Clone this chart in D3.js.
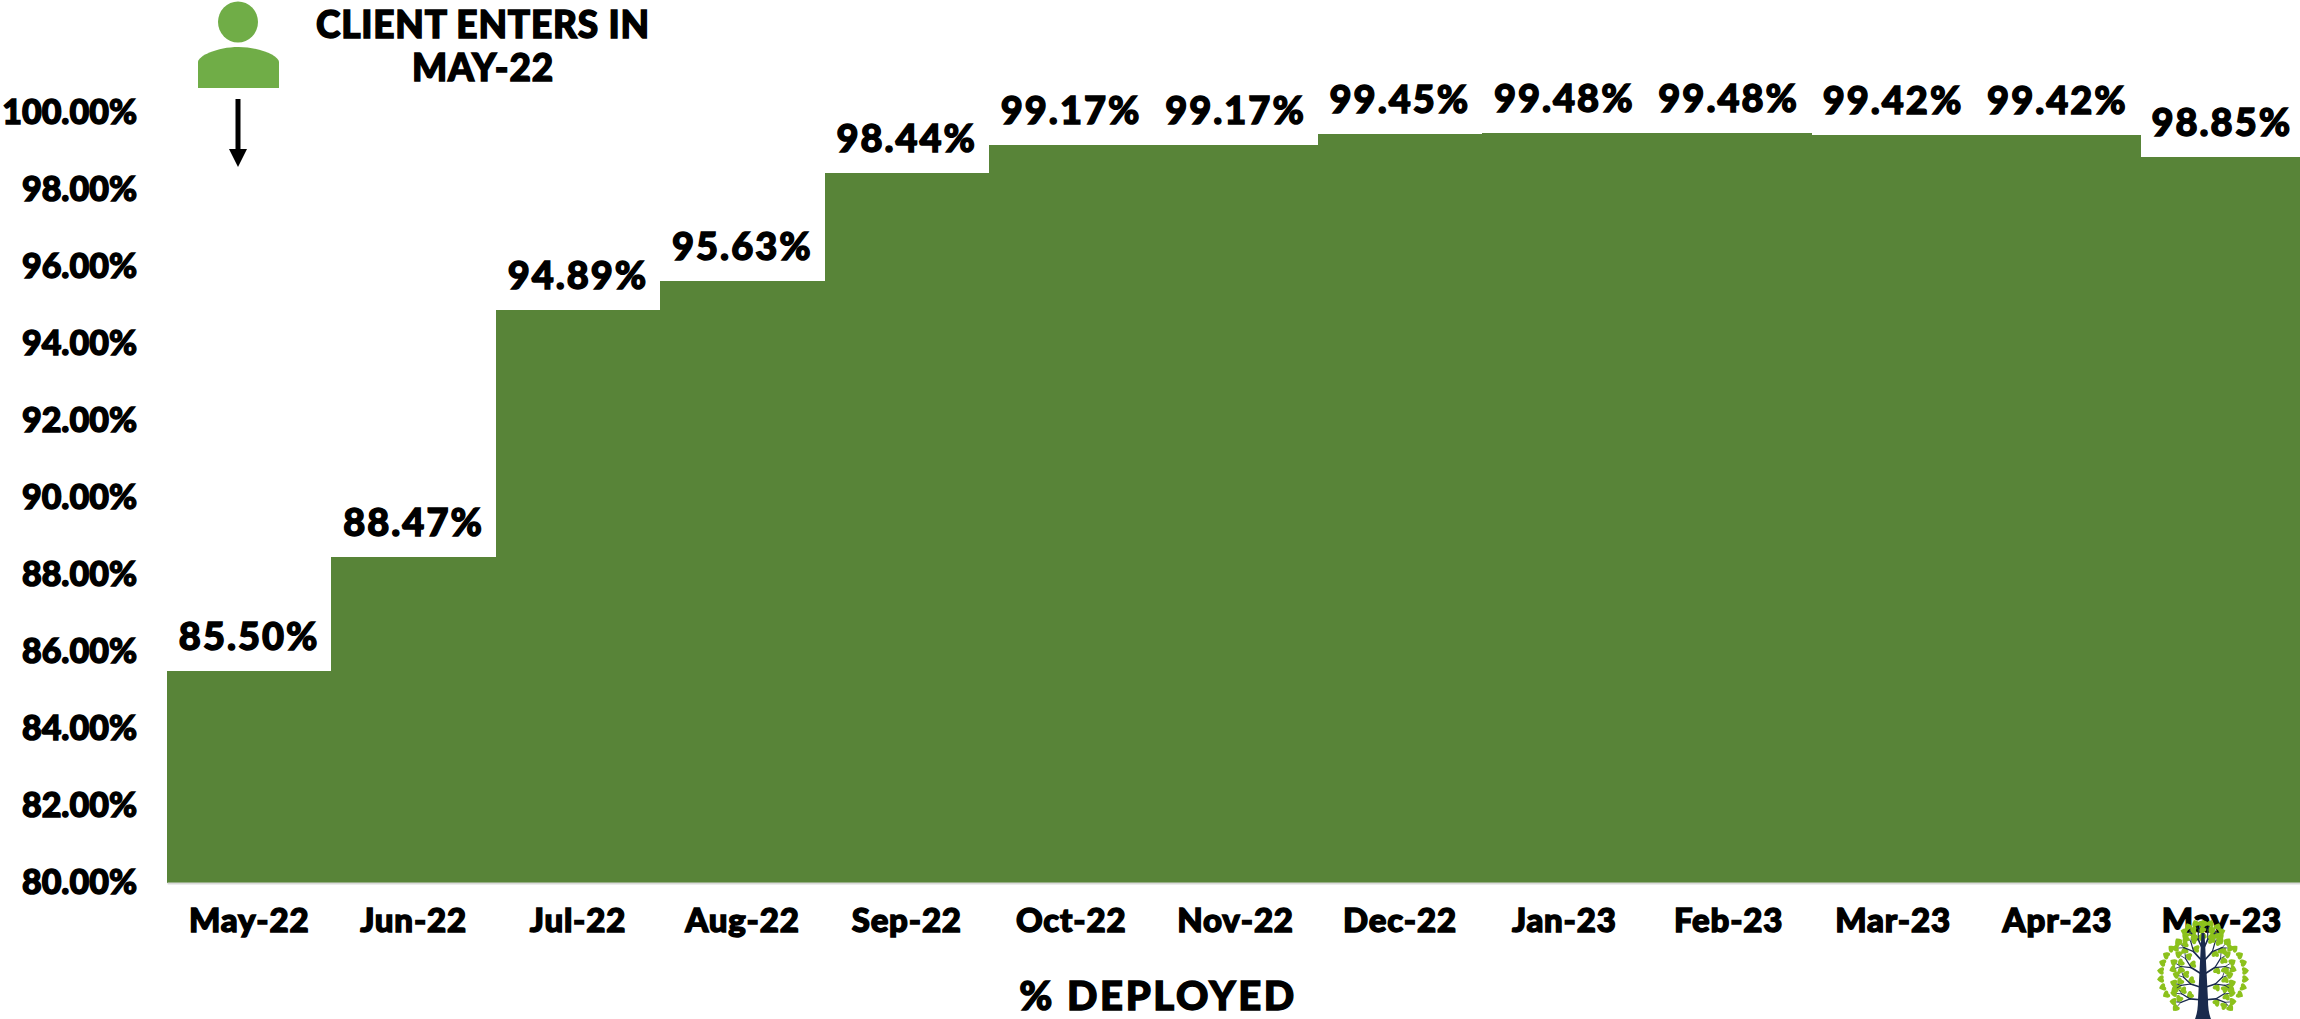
<!DOCTYPE html>
<html>
<head>
<meta charset="utf-8">
<script src="https://cdn.jsdelivr.net/npm/d3@7"></script>
<style>
  html, body { margin: 0; padding: 0; background: #fff; overflow: hidden; }
  svg { display: block; }
  text { font-family: Lato, "Open Sans", sans-serif; font-weight: 900; fill: #000; stroke: #000; stroke-width: 1.4px; }
</style>
</head>
<body>
<svg width="2300" height="1019"></svg>
<script>
var months = ['May-22', 'Jun-22', 'Jul-22', 'Aug-22', 'Sep-22', 'Oct-22', 'Nov-22', 'Dec-22', 'Jan-23', 'Feb-23', 'Mar-23', 'Apr-23', 'May-23'];
var deployed = [85.50, 88.47, 94.89, 95.63, 98.44, 99.17, 99.17, 99.45, 99.48, 99.48, 99.42, 99.42, 98.85];
var yTicks = [80, 82, 84, 86, 88, 90, 92, 94, 96, 98, 100];
var noteLines = ['CLIENT ENTERS IN', 'MAY-22'];
var xTitle = '% DEPLOYED';

var svg = d3.select('svg');

// last bar runs a little past the page edge, same as the reference
var left = 167, right = 2304, top_ = 113, bottom = 883;

var x = d3.scaleBand().domain(months).range([left, right]).padding(0);
var y = d3.scaleLinear().domain([80, 100]).range([bottom, top_]);

// bars, no gap so they read as steps
svg.selectAll('rect.bar')
    .data(deployed)
    .enter()
    .append('rect')
    .attr('class', 'bar')
    .attr('x', function (d, i) { return x(months[i]); })
    .attr('y', function (d) { return y(d); })
    .attr('width', x.bandwidth() + 1)
    .attr('height', function (d) { return bottom - y(d); })
    .attr('fill', '#588438')
    .attr('shape-rendering', 'crispEdges');

// value labels
svg.selectAll('text.val')
    .data(deployed)
    .enter()
    .append('text')
    .attr('class', 'val')
    .attr('x', function (d, i) { return x(months[i]) + x.bandwidth() / 2; })
    .attr('y', function (d) { return y(d) - 21; })
    .attr('text-anchor', 'middle')
    .attr('font-size', 38)
    .attr('letter-spacing', 2)
    .text(function (d) { return d.toFixed(2) + '%'; });

// axes
var yAxis = svg.append('g')
    .attr('transform', 'translate(' + left + ',0)')
    .call(d3.axisLeft(y).tickValues(yTicks).tickSize(0).tickPadding(30)
        .tickFormat(function (d) { return d.toFixed(2) + '%'; }));
yAxis.select('.domain').remove();
yAxis.selectAll('text').attr('font-size', 34);

var xAxis = svg.append('g')
    .attr('transform', 'translate(0,' + bottom + ')')
    .call(d3.axisBottom(x).tickSize(0).tickPadding(26));
xAxis.select('.domain').attr('stroke', '#d9d9d9').attr('stroke-width', 2);
xAxis.selectAll('text').attr('font-size', 33).attr('letter-spacing', 0.8);

// x title
svg.append('text')
    .attr('x', 1158)
    .attr('y', 1010)
    .attr('text-anchor', 'middle')
    .attr('font-size', 40)
    .attr('letter-spacing', 2.6)
    .text(xTitle);

// note next to the person icon
svg.selectAll('text.note')
    .data(noteLines)
    .enter()
    .append('text')
    .attr('class', 'note')
    .attr('x', 483)
    .attr('y', function (d, i) { return 38 + i * 43; })
    .attr('text-anchor', 'middle')
    .attr('font-size', 37)
    .attr('letter-spacing', 0.8)
    .text(function (d) { return d; });

// person icon
var person = svg.append('g').attr('fill', '#70ad47');
person.append('ellipse').attr('cx', 238).attr('cy', 22).attr('rx', 20).attr('ry', 20.5);
person.append('path').attr('d', 'M198,88 V62 C198,56 217,47 238.5,47 C260,47 279,56 279,62 V88 Z');

// arrow
svg.append('line')
    .attr('x1', 238).attr('y1', 99).attr('x2', 238).attr('y2', 152)
    .attr('stroke', '#000').attr('stroke-width', 5);
svg.append('path').attr('d', 'M229,149 H247 L238,167 Z').attr('fill', '#000');

// little tree logo, bottom right
var tree = svg.append('g');
var treeX = 2203, treeBase = 1019, treeMidY = 975;
var dark = '#1a2a4d', leaf = '#8cc11c';

function leafAt(px, py, a) {
    var s = 4.2;
    tree.append('path')
        .attr('transform', 'translate(' + px + ',' + py + ') rotate(' + a + ')')
        .attr('d', 'M0,' + s + ' C' + (-s * 1.5) + ',' + (-s * 0.1) + ' ' + (-s * 0.8) + ',' + (-s) + ' 0,' + (-s * 0.5) +
            ' C' + (s * 0.8) + ',' + (-s) + ' ' + (s * 1.5) + ',' + (-s * 0.1) + ' 0,' + s + ' Z')
        .attr('fill', leaf);
}

function branch(px, py, angle, len, w, depth) {
    var rad = angle * Math.PI / 180;
    var ex = px + Math.sin(rad) * len;
    var ey = py - Math.cos(rad) * len;
    tree.append('line')
        .attr('x1', px).attr('y1', py).attr('x2', ex).attr('y2', ey)
        .attr('stroke', dark).attr('stroke-width', w).attr('stroke-linecap', 'round');
    if (depth === 0) {
        leafAt(ex, ey, angle + 180);
        return;
    }
    leafAt(ex + Math.cos(rad) * 4, ey + Math.sin(rad) * 4, angle + 140);
    branch(ex, ey, angle - 26, len * 0.75, w * 0.7, depth - 1);
    branch(ex, ey, angle + 26, len * 0.75, w * 0.7, depth - 1);
}

[[1000, 85, 13], [988, 72, 13], [975, 58, 14], [962, 42, 14], [950, 24, 12]].forEach(function (b) {
    branch(treeX, b[0], -b[1], b[2], 1.7, 2);
    branch(treeX, b[0], b[1], b[2], 1.7, 2);
});

// outer ring of leaves
d3.range(-120, 121, 12).forEach(function (a) {
    var rad = a * Math.PI / 180;
    leafAt(treeX + Math.sin(rad) * 42, treeMidY - Math.cos(rad) * 39, a + 180);
});

tree.append('path')
    .attr('d', 'M' + (treeX - 1.5) + ',933 L' + (treeX + 1.5) + ',933 L' + (treeX + 5) + ',1000 Q' + (treeX + 5) + ',1012 ' + (treeX + 8) + ',' + treeBase +
        ' H' + (treeX - 8) + ' Q' + (treeX - 5) + ',1012 ' + (treeX - 5) + ',1000 Z')
    .attr('fill', dark);
</script>
</body>
</html>
